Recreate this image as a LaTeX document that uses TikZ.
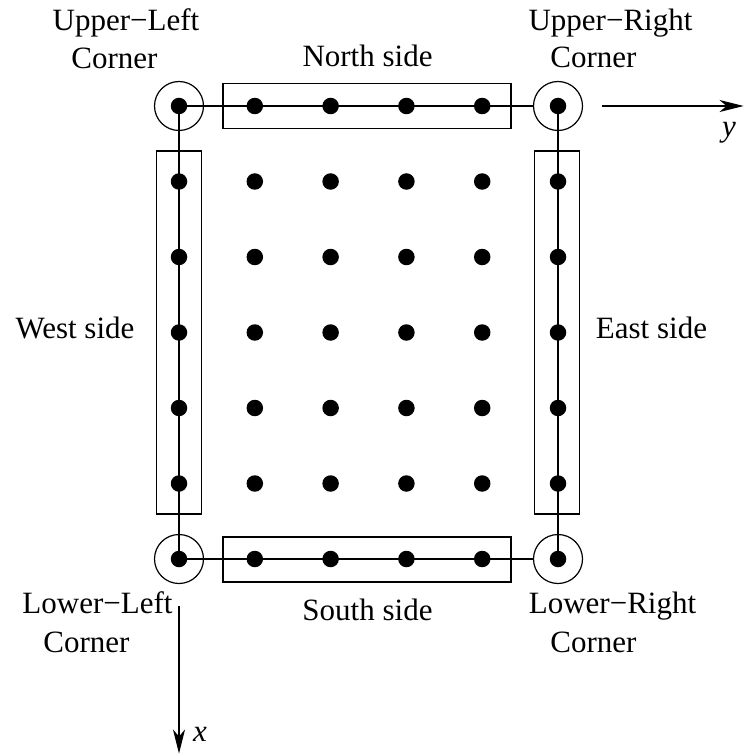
\documentclass[tikz,border=0pt]{standalone}
\usepackage{fontspec}
\setmainfont{Liberation Serif}
\newfontfamily\timesfam{Liberation Serif}
\usetikzlibrary{arrows.meta}
\begin{document}
\begin{tikzpicture}[x=1pt,y=-1pt,line width=1.2pt,
  dot/.style={circle,fill=black,inner sep=0pt,minimum size=16.5pt},
  ring/.style={circle,draw,inner sep=0pt,minimum size=49pt},
  sidebox/.style={draw,rectangle,inner sep=0pt},
  lbl/.style={anchor=base,inner sep=0pt,font=\timesfam\fontsize{31}{36}\selectfont},
  axis/.style={-{Stealth[length=24pt,width=12pt,inset=7pt]}}]
\useasboundingbox (0,0) rectangle (744,754);
% grid of points
\foreach \i in {0,...,6}
  \foreach \j in {0,...,5}
    \node[dot] (d-\i-\j) at ({179+75.8*\j},{106+75.5*\i}) {};
% corner rings
\node[ring] (ul) at (d-0-0) {};
\node[ring] (ur) at (d-0-5) {};
\node[ring] (ll) at (d-6-0) {};
\node[ring] (lr) at (d-6-5) {};
% side boxes
\node[sidebox,minimum width=288pt,minimum height=45pt] (north) at (367,106) {};
\node[sidebox,minimum width=288pt,minimum height=45pt] (south) at (367,559.5) {};
\node[sidebox,minimum width=45pt,minimum height=363pt] (west) at (179,332.5) {};
\node[sidebox,minimum width=45pt,minimum height=363pt] (east) at (557,332.5) {};
% connecting lines
\draw (d-0-0.center) -- (ur.west);
\draw (d-6-0.center) -- (lr.west);
\draw (d-0-0.center) -- (d-6-0.center);
\draw (d-0-5.center) -- (d-6-5.center);
% axes
\coordinate (yS) at (602,106);
\coordinate (yE) at (743.5,106);
\coordinate (xS) at (179,606);
\coordinate (xE) at (179,753.5);
\draw[axis] (yS) -- (yE);
\draw[axis] (xS) -- (xE);
\node[lbl] (ylab) at (729,137) {\itshape y};
\node[lbl] (xlab) at (200,741) {\itshape x};
% labels
\node[lbl] (ul1) at (126,31) {Upper−Left};
\node[lbl] (ul2) at (114.5,69) {Corner};
\node[lbl] (ur1) at (610.5,31) {Upper−Right};
\node[lbl] (ur2) at (593.5,68) {Corner};
\node[lbl] (ll1) at (97.5,613) {Lower−Left};
\node[lbl] (ll2) at (86.5,652) {Corner};
\node[lbl] (lr1) at (612.5,613) {Lower−Right};
\node[lbl] (lr2) at (593.5,652) {Corner};
\node[lbl] (nlab) at (367.5,67) {North side};
\node[lbl] (slab) at (367.5,620) {South side};
\node[lbl] (wlab) at (75,338) {West side};
\node[lbl] (elab) at (651.5,338) {East side};
\end{tikzpicture}
\end{document}
